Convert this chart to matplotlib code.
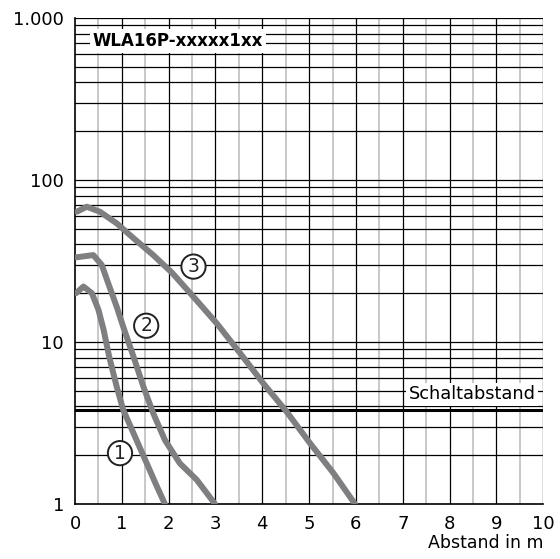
import numpy as np
import matplotlib.pyplot as plt
from matplotlib.ticker import FixedLocator

# curves (Abstand in m, Funktionsreserve)
x1 = [0.02, 0.18, 0.36, 0.50, 0.61, 0.73, 0.89, 1.03, 1.25, 1.50, 1.75, 1.92]
y1 = [20, 22, 20, 15.8, 11.9, 8.1, 5.3, 3.8, 2.73, 1.87, 1.28, 1.0]

x2 = [0.02, 0.39, 0.57, 0.71, 0.89, 1.03, 1.25, 1.46, 1.67, 1.92, 2.24, 2.60, 2.99]
y2 = [33.3, 34.4, 29.9, 23, 16.5, 12.4, 8.1, 5.3, 3.63, 2.48, 1.78, 1.41, 1.0]

x3 = [0.04, 0.25, 0.53, 0.89, 1.25, 1.67, 2.07, 2.53, 3.03, 3.53, 4.02,
      4.52, 5.02, 5.52, 5.98]
y3 = [63.7, 68.4, 63.7, 54, 43.7, 34.4, 26.8, 19, 13.0, 8.5, 5.56,
      3.71, 2.37, 1.55, 1.0]

# curve labels (number, x, y)
curve_labels = [("1", 0.96, 2.06), ("2", 1.52, 12.6), ("3", 2.53, 29.2)]

schaltabstand = 3.8
ytick_vals = [1, 10, 100, 1000]
ytick_labels = ["1", "10", "100", "1.000"]

fig = plt.figure(figsize=(5.6, 5.59), dpi=100)
ax = fig.add_axes([0.134, 0.0984, 0.836, 0.8694])

ax.set_yscale("log")
ax.set_xlim(0, 10)
ax.set_ylim(1, 1000)

# grid
for v in np.arange(0.5, 10, 1.0):
    ax.axvline(v, color="#c4c4c4", lw=1.3, zorder=1)
for v in range(1, 11):
    ax.axvline(v, color="black", lw=0.9, zorder=1.5)
for dec in [1, 10, 100]:
    for m in range(2, 10):
        ax.axhline(dec * m, color="black", lw=0.9, zorder=1.5)
for v in [10, 100, 1000]:
    ax.axhline(v, color="black", lw=0.9, zorder=1.5)

ax.axhline(schaltabstand, color="black", lw=2.2, zorder=2)

for xs, ys in [(x1, y1), (x2, y2), (x3, y3)]:
    ax.plot(xs, ys, color="#7f7f82", lw=4.3, solid_capstyle="round",
            solid_joinstyle="round", zorder=3)

for num, lx, ly in curve_labels:
    ax.text(lx, ly, num, fontsize=13.5, color="#222222", ha="center", va="center",
            bbox=dict(boxstyle="circle,pad=0.14", facecolor="white",
                      edgecolor="#222222", lw=1.4), zorder=4)

ax.text(8.48, 4.75, "Schaltabstand", fontsize=12.8, ha="center", va="center",
        bbox=dict(facecolor="white", edgecolor="none", pad=2), zorder=4)
ax.text(0.38, 720, "WLA16P-xxxxx1xx", fontsize=12, fontweight="bold",
        ha="left", va="center",
        bbox=dict(facecolor="white", edgecolor="none", pad=2), zorder=4)

ax.yaxis.set_major_locator(FixedLocator(ytick_vals))
ax.yaxis.set_minor_locator(FixedLocator([]))
ax.set_yticks(ytick_vals)
ax.set_yticklabels(ytick_labels)
ax.set_xticks(range(0, 11))
ax.tick_params(axis="both", length=0, labelsize=13, pad=8)

for s in ["top", "right"]:
    ax.spines[s].set_visible(False)
ax.spines["left"].set_linewidth(1.2)
ax.spines["bottom"].set_linewidth(1.2)

fig.text(0.970, 0.012, "Abstand in m", fontsize=12.5, ha="right", va="bottom")

fig.savefig("out.png", dpi=100)
